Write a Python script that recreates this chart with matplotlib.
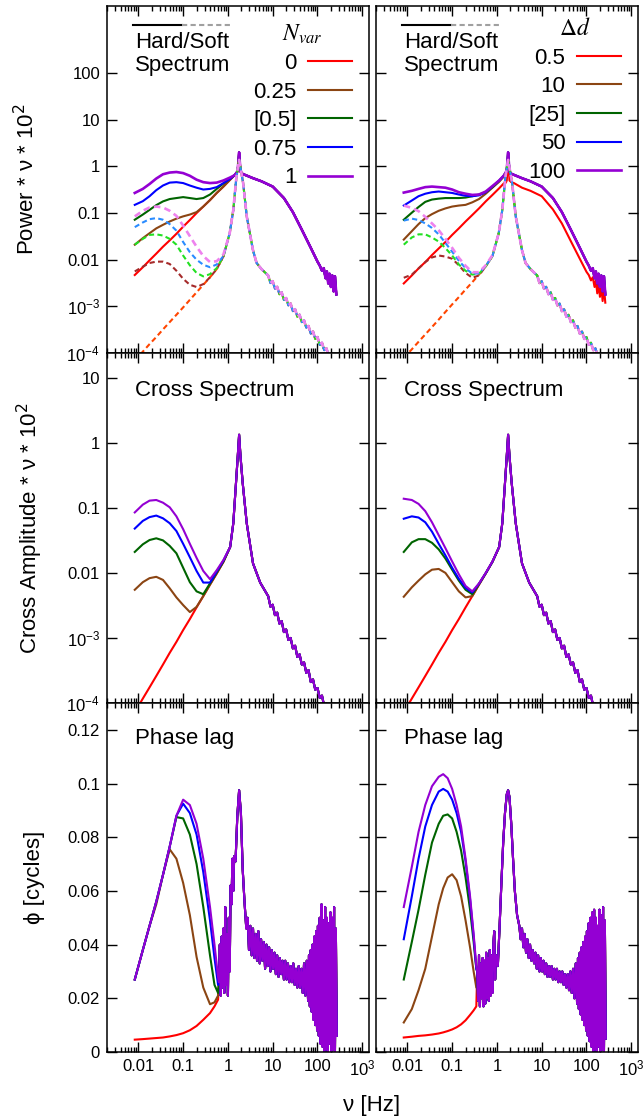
import matplotlib
matplotlib.use('Agg')
import matplotlib.pyplot as plt
import numpy as np
from matplotlib.font_manager import FontProperties
from matplotlib.ticker import FixedLocator, FixedFormatter, LogLocator, NullLocator

plt.rcParams['font.family'] = ['Liberation Sans', 'DejaVu Sans']

# ---------------- data (frequencies stored as log10(nu / Hz)) ----------------
nvar_labels = ['0', '0.25', '[0.5]', '0.75', '1']
dd_labels = ['0.5', '10', '[25]', '50', '100']
hard_colors = ['#ff0000', '#8b4513', '#006400', '#0000ff', '#9400d3']
soft_colors = ['#ff4500', '#a52a2a', '#22e022', '#2a8cff', '#ee82ee']

# power spectra, hard band, low-frequency part
lg_hard_lo = [-2.08, -1.9, -1.75, -1.6, -1.45, -1.3, -1.15, -1.0, -0.85, -0.7, -0.55, -0.4, -0.25, -0.1, 0.05, 0.15]
hard_nvar = [
    [0.0047, 0.0069, 0.0097, 0.0135, 0.019, 0.026, 0.036, 0.051, 0.071, 0.1, 0.138, 0.19, 0.27, 0.37, 0.52, 0.65],
    [0.021, 0.029, 0.037, 0.047, 0.056, 0.066, 0.076, 0.085, 0.093, 0.105, 0.138, 0.19, 0.27, 0.37, 0.52, 0.65],
    [0.072, 0.093, 0.117, 0.148, 0.178, 0.2, 0.21, 0.22, 0.21, 0.2, 0.21, 0.25, 0.33, 0.43, 0.55, 0.65],
    [0.15, 0.18, 0.23, 0.31, 0.39, 0.45, 0.46, 0.44, 0.39, 0.35, 0.32, 0.33, 0.36, 0.44, 0.54, 0.65],
    [0.27, 0.33, 0.42, 0.55, 0.68, 0.74, 0.76, 0.72, 0.63, 0.52, 0.46, 0.44, 0.45, 0.5, 0.58, 0.65],
]
hard_dd = [
    [0.0031, 0.0046, 0.0065, 0.0089, 0.0126, 0.0174, 0.024, 0.034, 0.047, 0.066, 0.091, 0.126, 0.178, 0.245, 0.34, 0.43],
    [0.027, 0.041, 0.058, 0.078, 0.095, 0.112, 0.126, 0.138, 0.145, 0.15, 0.17, 0.2, 0.26, 0.35, 0.47, 0.6],
    [0.072, 0.102, 0.135, 0.174, 0.195, 0.204, 0.21, 0.21, 0.21, 0.215, 0.23, 0.25, 0.28, 0.36, 0.49, 0.63],
    [0.145, 0.186, 0.23, 0.26, 0.28, 0.29, 0.28, 0.27, 0.25, 0.235, 0.23, 0.24, 0.28, 0.37, 0.5, 0.63],
    [0.275, 0.3, 0.33, 0.36, 0.37, 0.36, 0.35, 0.32, 0.28, 0.26, 0.245, 0.25, 0.29, 0.38, 0.5, 0.63],
]
# hard band, QPO and high-frequency part (shared), plus the lower one for dd = 0.5
lg_hard_hi = [0.2, 0.22, 0.25, 0.28, 0.32, 0.38, 0.56, 0.75, 1.0, 1.25, 1.45, 1.65, 1.85, 2.0,
              2.05, 2.1, 2.14, 2.18, 2.21, 2.24, 2.27, 2.3, 2.33, 2.36, 2.39, 2.42]
hard_hi = [0.75, 0.85, 2.0, 0.78, 0.7, 0.66, 0.56, 0.48, 0.37, 0.21, 0.105, 0.044, 0.018, 0.0091,
           0.0075, 0.0058, 0.0066, 0.0040, 0.0056, 0.0031, 0.0050, 0.0026, 0.0046, 0.0021, 0.0044, 0.0018]
hard_hi_dd05 = [0.45, 0.5, 1.6, 0.5, 0.46, 0.44, 0.35, 0.3, 0.23, 0.12, 0.06, 0.025, 0.0105, 0.0055,
                0.0047, 0.0036, 0.0042, 0.0026, 0.0036, 0.0019, 0.0031, 0.0016, 0.0027, 0.0013, 0.0025, 0.0012]

# soft band (dashed) and cross spectra share this low-frequency grid
lg_lo = [-2.08, -1.9, -1.75, -1.6, -1.45, -1.3, -1.15, -1.0, -0.85, -0.7, -0.55, -0.4, -0.25, -0.1]
soft_nvar = [
    [6.9e-5, 1.07e-4, 1.55e-4, 2.2e-4, 3.2e-4, 4.6e-4, 6.6e-4, 9.5e-4, 1.38e-3, 2.0e-3, 2.9e-3, 4.2e-3, 6.3e-3, 0.0118],
    [0.0056, 0.0071, 0.0085, 0.0091, 0.0091, 0.0081, 0.0058, 0.0039, 0.0029, 0.0026, 0.003, 0.0042, 0.0063, 0.0118],
    [0.021, 0.028, 0.034, 0.035, 0.033, 0.028, 0.021, 0.0123, 0.0076, 0.0052, 0.0044, 0.0049, 0.0066, 0.0118],
    [0.05, 0.063, 0.074, 0.078, 0.072, 0.058, 0.042, 0.024, 0.0145, 0.01, 0.0078, 0.0069, 0.0079, 0.012],
    [0.085, 0.112, 0.132, 0.138, 0.132, 0.112, 0.087, 0.054, 0.032, 0.019, 0.012, 0.0089, 0.0093, 0.013],
]
soft_dd = [
    [7.8e-5, 1.2e-4, 1.74e-4, 2.5e-4, 3.6e-4, 5.2e-4, 7.6e-4, 1.1e-3, 1.58e-3, 2.3e-3, 3.3e-3, 4.8e-3, 7.2e-3, 0.012],
    [0.0041, 0.0048, 0.0065, 0.0089, 0.0112, 0.0123, 0.0117, 0.0105, 0.0076, 0.0052, 0.0041, 0.0046, 0.0072, 0.012],
    [0.021, 0.03, 0.035, 0.035, 0.03, 0.0245, 0.0178, 0.0123, 0.0079, 0.0058, 0.0048, 0.005, 0.0072, 0.012],
    [0.069, 0.076, 0.071, 0.06, 0.048, 0.035, 0.023, 0.0148, 0.0095, 0.0066, 0.005, 0.0051, 0.0074, 0.012],
    [0.145, 0.129, 0.11, 0.083, 0.06, 0.043, 0.028, 0.018, 0.011, 0.0074, 0.0054, 0.0054, 0.0076, 0.0125],
]
lg_soft_hi = [0.04, 0.12, 0.19, 0.25, 0.34, 0.42, 0.56, 0.64, 0.75,
              0.9, 0.95, 1.0, 1.05, 1.1, 1.15, 1.2, 1.25, 1.3, 1.35, 1.4, 1.45, 1.5, 1.55, 1.6, 1.65,
              1.7, 1.75, 1.8, 1.85, 1.9, 1.95, 2.0, 2.05, 2.1, 2.15, 2.2, 2.25, 2.3, 2.35, 2.4]
soft_hi = [0.037, 0.117, 0.6, 1.38, 0.44, 0.085, 0.016, 0.0085, 0.0063,
           0.00457, 0.00316, 0.00347, 0.0024, 0.00263, 0.00182, 0.002, 0.00138, 0.00151, 0.00105, 0.00115,
           0.00079, 0.00087, 0.0006, 0.00066, 0.00046, 0.0005, 0.00035, 0.00038, 0.00026, 0.00029, 0.0002,
           0.00022, 0.00015, 0.000166, 0.000115, 0.000126, 0.000087, 0.000095, 0.000066, 0.000072]

# cross spectra
cross_nvar = [
    [7.2e-5, 1.17e-4, 1.74e-4, 2.6e-4, 3.9e-4, 5.9e-4, 8.7e-4, 1.32e-3, 1.95e-3, 2.95e-3, 4.4e-3, 6.6e-3, 9.8e-3, 0.0148],
    [0.0055, 0.0072, 0.0083, 0.0087, 0.0078, 0.0058, 0.0042, 0.0032, 0.0025, 0.003, 0.0044, 0.0066, 0.0098, 0.0148],
    [0.021, 0.0275, 0.032, 0.034, 0.0316, 0.026, 0.02, 0.012, 0.0072, 0.0052, 0.0047, 0.0069, 0.0102, 0.0151],
    [0.048, 0.063, 0.072, 0.076, 0.069, 0.058, 0.044, 0.028, 0.0174, 0.0107, 0.0071, 0.0071, 0.0105, 0.0155],
    [0.085, 0.112, 0.129, 0.132, 0.12, 0.102, 0.074, 0.047, 0.028, 0.017, 0.0107, 0.008, 0.011, 0.0158],
]
cross_dd = [
    [7.2e-5, 1.17e-4, 1.74e-4, 2.6e-4, 3.9e-4, 5.9e-4, 8.7e-4, 1.32e-3, 1.95e-3, 2.95e-3, 4.4e-3, 6.6e-3, 9.8e-3, 0.0148],
    [0.0043, 0.006, 0.0076, 0.0095, 0.0112, 0.0115, 0.01, 0.0072, 0.0052, 0.0042, 0.0044, 0.0066, 0.0098, 0.0148],
    [0.021, 0.0295, 0.033, 0.033, 0.029, 0.023, 0.0166, 0.0112, 0.0076, 0.0055, 0.0047, 0.0068, 0.0099, 0.0148],
    [0.068, 0.074, 0.071, 0.06, 0.043, 0.028, 0.0186, 0.012, 0.0081, 0.0059, 0.005, 0.0068, 0.0099, 0.0149],
    [0.138, 0.132, 0.115, 0.089, 0.06, 0.038, 0.024, 0.015, 0.0095, 0.0063, 0.0052, 0.0069, 0.01, 0.015],
]
lg_cross_hi = [0.05, 0.12, 0.18, 0.22, 0.25, 0.28, 0.33, 0.42, 0.56, 0.72,
               0.9, 0.95, 1.0, 1.05, 1.1, 1.15, 1.2, 1.25, 1.3, 1.35, 1.4, 1.45, 1.5, 1.55, 1.6, 1.65,
               1.7, 1.75, 1.8, 1.85, 1.9, 1.95, 2.0, 2.05, 2.1, 2.15, 2.2, 2.25, 2.3, 2.35, 2.4]
cross_hi = [0.025, 0.058, 0.24, 0.63, 1.33, 0.63, 0.24, 0.058, 0.014, 0.0071,
            0.00437, 0.00302, 0.00324, 0.00224, 0.00245, 0.00166, 0.00182, 0.00123, 0.00135, 0.00093, 0.001,
            0.00069, 0.00076, 0.00051, 0.00056, 0.00039, 0.00042, 0.00029, 0.00032, 0.00021, 0.00023, 0.00016,
            0.00017, 0.00012, 0.00013, 0.000089, 0.000098, 0.000066, 0.000072, 0.00005, 0.000054]

# phase lags [cycles]
lg_lag_l = [-2.08, -1.9, -1.75, -1.6, -1.45, -1.3, -1.15, -1.0, -0.85, -0.7, -0.55, -0.4, -0.3, -0.22]
lag_nvar = [
    [0.0046, 0.0048, 0.005, 0.0052, 0.0054, 0.0058, 0.0063, 0.007, 0.0081, 0.0097, 0.012, 0.0145, 0.017, 0.0195],
    [0.027, 0.038, 0.047, 0.055, 0.066, 0.0755, 0.072, 0.063, 0.051, 0.0354, 0.024, 0.0178, 0.0185, 0.021],
    [0.027, 0.038, 0.047, 0.056, 0.066, 0.0765, 0.0875, 0.087, 0.081, 0.07, 0.054, 0.036, 0.025, 0.022],
    [0.027, 0.038, 0.047, 0.056, 0.066, 0.0765, 0.088, 0.0925, 0.089, 0.081, 0.067, 0.049, 0.035, 0.025],
    [0.027, 0.038, 0.047, 0.056, 0.066, 0.0765, 0.088, 0.094, 0.092, 0.085, 0.072, 0.054, 0.040, 0.028],
]
lg_lag_tail_l = [-0.2, -0.18, -0.16, -0.14, -0.12, -0.1, -0.08, -0.06, -0.04, -0.02, 0.0, 0.02, 0.04, 0.06,
                 0.08, 0.1, 0.12, 0.14, 0.17, 0.21, 0.25, 0.29, 0.33, 0.37, 0.41,
                 0.44, 0.47, 0.5, 0.53, 0.56, 0.59, 0.62, 0.65, 0.68, 0.71, 0.74, 0.77, 0.8, 0.83, 0.86,
                 0.89, 0.92, 0.95, 0.98, 1.01, 1.04, 1.07, 1.1, 1.13, 1.16, 1.19, 1.22, 1.25, 1.28, 1.31,
                 1.34, 1.37, 1.4, 1.43, 1.46, 1.49, 1.52, 1.55, 1.58, 1.61, 1.64, 1.67, 1.7, 1.73, 1.76, 1.79,
                 1.81, 1.83, 1.85, 1.87, 1.89, 1.91, 1.93, 1.95, 1.97, 1.99, 2.01, 2.03, 2.05, 2.07, 2.09,
                 2.11, 2.13, 2.15, 2.17, 2.19, 2.21, 2.23, 2.25, 2.27, 2.29, 2.31, 2.33, 2.35, 2.37, 2.39,
                 2.41, 2.43]
lag_tail_l = [0.026, 0.04, 0.021, 0.043, 0.024, 0.046, 0.022, 0.054, 0.025, 0.044, 0.021, 0.05, 0.03, 0.062,
              0.055, 0.072, 0.06, 0.073, 0.071, 0.088, 0.0975, 0.089, 0.068, 0.056, 0.046,
              0.05, 0.038, 0.047, 0.036, 0.046, 0.035, 0.044, 0.034, 0.045, 0.033, 0.042, 0.034, 0.041, 0.031, 0.04,
              0.032, 0.039, 0.03, 0.038, 0.031, 0.037, 0.029, 0.036, 0.028, 0.035, 0.029, 0.034, 0.027, 0.034, 0.027,
              0.033, 0.026, 0.032, 0.026, 0.033, 0.025, 0.031, 0.024, 0.032, 0.024, 0.031, 0.022, 0.033, 0.021, 0.034,
              0.019,
              0.036, 0.017, 0.038, 0.015, 0.04, 0.012, 0.043, 0.01, 0.045, 0.008, 0.047, 0.006, 0.05, 0.003, 0.055,
              0.002, 0.049, 0.0, 0.054, 0.001, 0.05, 0.0, 0.048, 0.003, 0.052, 0.0, 0.05, 0.001, 0.054, 0.0,
              0.046, 0.006]

lg_lag_r = [-2.08, -1.9, -1.75, -1.6, -1.45, -1.3, -1.2, -1.1, -1.0, -0.9, -0.8, -0.7, -0.6, -0.52, -0.46]
lag_dd = [
    [0.0054, 0.0057, 0.006, 0.0062, 0.0065, 0.0069, 0.0073, 0.0078, 0.0084, 0.0092, 0.0103, 0.0118, 0.0138, 0.0155, 0.017],
    [0.011, 0.016, 0.023, 0.031, 0.043, 0.055, 0.061, 0.065, 0.0662, 0.064, 0.058, 0.049, 0.039, 0.03, 0.024],
    [0.027, 0.041, 0.053, 0.066, 0.078, 0.085, 0.088, 0.0885, 0.087, 0.082, 0.075, 0.065, 0.053, 0.041, 0.031],
    [0.042, 0.058, 0.072, 0.084, 0.092, 0.097, 0.098, 0.097, 0.094, 0.089, 0.082, 0.071, 0.057, 0.043, 0.031],
    [0.054, 0.069, 0.082, 0.092, 0.099, 0.1025, 0.1035, 0.102, 0.098, 0.092, 0.084, 0.072, 0.058, 0.044, 0.032],
]
lg_lag_tail_r = [-0.44, -0.42, -0.4, -0.38, -0.36, -0.34, -0.32, -0.3, -0.28, -0.26, -0.24, -0.22, -0.2,
                 -0.18, -0.16, -0.14, -0.12, -0.1, -0.08, -0.06,
                 -0.04, -0.02, 0.02, 0.06, 0.1, 0.14, 0.18, 0.22, 0.25, 0.28, 0.32, 0.36, 0.4, 0.45, 0.5,
                 0.53, 0.56, 0.59, 0.62, 0.65, 0.68, 0.71, 0.74, 0.77, 0.8, 0.83, 0.86, 0.89, 0.92, 0.95,
                 0.98, 1.01, 1.04, 1.07, 1.1, 1.13, 1.16, 1.19, 1.22, 1.25, 1.28, 1.31, 1.34, 1.37, 1.4,
                 1.43, 1.46, 1.49, 1.52, 1.55, 1.58, 1.61, 1.64, 1.67, 1.7, 1.73, 1.76, 1.79,
                 1.81, 1.83, 1.85, 1.87, 1.89, 1.91, 1.93, 1.95, 1.97, 1.99, 2.01, 2.03, 2.05, 2.07, 2.09,
                 2.11, 2.13, 2.15, 2.17, 2.19, 2.21, 2.23, 2.25, 2.27, 2.29, 2.31, 2.33, 2.35, 2.37, 2.39,
                 2.41, 2.43]
lag_tail_r = [0.03, 0.019, 0.036, 0.017, 0.033, 0.02, 0.035, 0.017, 0.034, 0.018, 0.037, 0.02, 0.035,
              0.019, 0.038, 0.021, 0.036, 0.022, 0.04, 0.045,
              0.027, 0.036, 0.032, 0.047, 0.063, 0.078, 0.089, 0.096, 0.0975, 0.095, 0.085, 0.072, 0.06, 0.051, 0.047,
              0.042, 0.046, 0.039, 0.044, 0.037, 0.042, 0.035, 0.04, 0.034, 0.038, 0.033, 0.037, 0.031, 0.036, 0.03,
              0.035, 0.03, 0.034, 0.029, 0.033, 0.028, 0.032, 0.028, 0.032, 0.027, 0.031, 0.027, 0.031, 0.026, 0.03,
              0.026, 0.03, 0.025, 0.029, 0.024, 0.029, 0.023, 0.03, 0.022, 0.031, 0.02, 0.033, 0.018,
              0.035, 0.016, 0.037, 0.014, 0.039, 0.012, 0.041, 0.01, 0.043, 0.008, 0.045, 0.006, 0.048, 0.004, 0.05,
              0.002, 0.052, 0.0, 0.053, 0.001, 0.05, 0.0, 0.047, 0.002, 0.053, 0.0, 0.051, 0.001, 0.054, 0.0,
              0.049, 0.005]

# ---------------- figure ----------------
fig = plt.figure(figsize=(6.44, 11.19), dpi=100)
col_x = [107 / 644, 376 / 644]
col_w = 262 / 644
rows = [(1 - 353 / 1119, 347 / 1119), (1 - 703 / 1119, 350 / 1119), (1 - 1052 / 1119, 349 / 1119)]
axes = [[fig.add_axes([x, b, col_w, h]) for x in col_x] for b, h in rows]

LW = 1.5
DASH = (0, (2.5, 1.6))


def nu(lg):
    return 10 ** np.asarray(lg)


# row 1: power spectra
legend_y = [0.953, 0.965]
for j, (hard, soft, labels, title) in enumerate([(hard_nvar, soft_nvar, nvar_labels, r'$N_{var}$'),
                                                  (hard_dd, soft_dd, dd_labels, r'$\Delta d$')]):
    ax = axes[0][j]
    handles = []
    for i in range(5):
        hi = hard_hi_dd05 if (j == 1 and i == 0) else hard_hi
        ln, = ax.plot(nu(lg_hard_lo + lg_hard_hi), hard[i] + hi, color=hard_colors[i],
                      lw=LW if i < 4 else 1.9)
        handles.append(ln)
    for i in range(5):
        ax.plot(nu(lg_lo + lg_soft_hi), soft[i] + soft_hi, color=soft_colors[i],
                lw=LW if i < 4 else 1.9, ls=DASH)
    ax.legend(handles, labels, loc='upper right', bbox_to_anchor=(0.935, legend_y[j]), frameon=False,
              markerfirst=False, fontsize=16, handlelength=2.0, handletextpad=0.5,
              labelspacing=0.34, borderpad=0, borderaxespad=0, title=title,
              title_fontproperties=FontProperties(family='Liberation Serif', size=17, math_fontfamily='stix'))
    # hard / soft key
    ax.plot([0.1, 0.285], [0.945, 0.945], transform=ax.transAxes, color='black', lw=LW)
    ax.plot([0.285, 0.478], [0.945, 0.945], transform=ax.transAxes, color='#a0a0a0', lw=LW, ls=DASH)
    ax.text(0.107, 0.879, 'Hard/Soft', transform=ax.transAxes, fontsize=16, va='baseline')
    ax.text(0.107, 0.813, 'Spectrum', transform=ax.transAxes, fontsize=16, va='baseline')

# row 2: cross spectra
for j, cross in enumerate([cross_nvar, cross_dd]):
    ax = axes[1][j]
    for i in range(5):
        ax.plot(nu(lg_lo + lg_cross_hi), cross[i] + cross_hi, color=hard_colors[i], lw=LW)
    ax.text(0.107, 0.894, 'Cross Spectrum', transform=ax.transAxes, fontsize=16, va='center')

# row 3: phase lags
for j, (lg, lags, lg_t, tail) in enumerate([(lg_lag_l, lag_nvar, lg_lag_tail_l, lag_tail_l),
                                            (lg_lag_r, lag_dd, lg_lag_tail_r, lag_tail_r)]):
    ax = axes[2][j]
    for i in range(5):
        ax.plot(nu(lg + lg_t), lags[i] + tail, color=hard_colors[i], lw=LW)
    ax.text(0.107, 0.897, 'Phase lag', transform=ax.transAxes, fontsize=16, va='center')

# axes styling
ylims = [(1e-4, 10 ** 3.44), (1e-4, 10 ** 1.38), (0, 0.13)]
yticks = [[1e-4, 1e-3, 0.01, 0.1, 1, 10, 100],
          [1e-4, 1e-3, 0.01, 0.1, 1, 10],
          [0, 0.02, 0.04, 0.06, 0.08, 0.1, 0.12]]
yticklabels = [[r'$\mathregular{10^{-4}}$', r'$\mathregular{10^{-3}}$', '0.01', '0.1', '1', '10', '100'],
               [r'$\mathregular{10^{-4}}$', r'$\mathregular{10^{-3}}$', '0.01', '0.1', '1', '10'],
               ['0', '0.02', '0.04', '0.06', '0.08', '0.1', '0.12']]
xticks = [0.01, 0.1, 1, 10, 100, 1000]
xticklabels = ['0.01', '0.1', '1', '10', '100', r'$\mathregular{10^3}$']

for r in range(3):
    for j in range(2):
        ax = axes[r][j]
        ax.set_xscale('log')
        ax.set_xlim(10 ** -2.7, 10 ** 3.15)
        if r < 2:
            ax.set_yscale('log')
        ax.set_ylim(*ylims[r])
        ax.xaxis.set_major_locator(FixedLocator(xticks))
        ax.xaxis.set_major_formatter(FixedFormatter(xticklabels))
        ax.xaxis.set_minor_locator(LogLocator(base=10, subs=np.arange(2, 10), numticks=20))
        ax.yaxis.set_major_locator(FixedLocator(yticks[r]))
        ax.yaxis.set_major_formatter(FixedFormatter(yticklabels[r]))
        ax.yaxis.set_minor_locator(NullLocator())
        ax.tick_params(which='both', direction='in', top=True, right=True, labelsize=12, pad=5)
        ax.tick_params(which='major', length=7, width=1)
        ax.tick_params(which='minor', length=3.5, width=1)
        ax.tick_params(labelleft=(j == 0), labelbottom=(r == 2))
        for s in ax.spines.values():
            s.set_linewidth(1.1)

ylabels = ['Power * ν * 10$^2$', 'Cross Amplitude * ν * 10$^2$', 'ϕ [cycles]']
label_x = [-0.305, -0.294, -0.275]
for r in range(3):
    axes[r][0].text(label_x[r], 0.5, ylabels[r], transform=axes[r][0].transAxes, rotation=90,
                    ha='center', va='center', fontsize=16)
fig.text(372 / 644, 1 - 1106 / 1119, 'ν [Hz]', ha='center', va='center', fontsize=16)

fig.savefig('out.png', dpi=100)
